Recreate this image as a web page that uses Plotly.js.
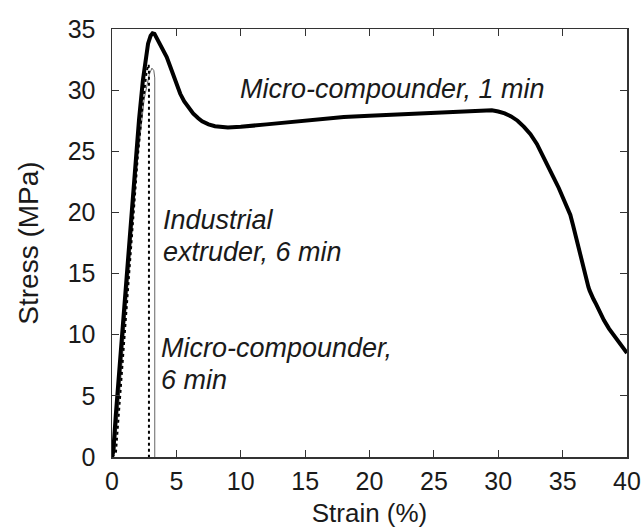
<!DOCTYPE html>
<html>
<head>
<meta charset="utf-8">
<script src="https://cdn.plot.ly/plotly-3.0.1.min.js"></script>
<style>html,body{margin:0;padding:0;background:#fff;}#chart{width:642px;height:532px;}</style>
</head>
<body>
<div id="chart"></div>
<script>
// Micro-compounder, 1 min
const strain1 = [0, 0.1, 0.3, 0.6, 1.0, 1.4, 1.8, 2.1, 2.4, 2.6, 2.8, 3.0, 3.15, 3.3, 3.5, 3.75, 4.0, 4.25, 4.5, 4.75, 5.0, 5.3, 5.6, 6.0, 6.3, 6.7, 7.0, 7.5, 8.0, 9, 10, 12, 14, 16, 18, 20, 22, 24, 26, 28, 29, 29.5, 30, 30.5, 31, 31.5, 32, 32.5, 33, 33.5, 34, 34.3, 34.7, 35.0, 35.3, 35.6, 35.8, 36.0, 36.2, 36.5, 36.7, 36.85, 37.0, 37.1, 37.25, 37.4, 37.6, 37.9, 38.2, 38.6, 39.0, 39.5, 40];
const stress1 = [0, 0.5, 3.5, 7.6, 13, 18.5, 23.8, 27.6, 30.8, 32.5, 33.8, 34.45, 34.65, 34.6, 34.2, 33.7, 33.2, 32.7, 32.0, 31.2, 30.5, 29.7, 29.1, 28.5, 28.1, 27.7, 27.45, 27.2, 27.05, 26.95, 27.0, 27.2, 27.4, 27.6, 27.8, 27.9, 28.0, 28.1, 28.2, 28.35, 28.4, 28.35, 28.25, 28.1, 27.85, 27.5, 27.0, 26.4, 25.6, 24.6, 23.5, 22.85, 22.0, 21.3, 20.6, 19.8, 19.0, 18.1, 17.3, 16.0, 14.9, 14.35, 13.9, 13.6, 13.2, 12.9, 12.5, 11.8, 11.2, 10.5, 9.9, 9.2, 8.5];
// Industrial extruder, 6 min
const strain2 = [0, 0.3, 0.6, 1.0, 1.5, 2.0, 2.4, 2.7, 2.85, 2.87, 2.87];
const stress2 = [0, 0.3, 4.5, 10, 17.5, 24.5, 29.0, 31.6, 32.1, 31.5, 0];
// Micro-compounder, 6 min
const strain3 = [0, 0.2, 0.5, 1.0, 1.5, 2.0, 2.5, 2.9, 3.1, 3.25, 3.32, 3.32];
const stress3 = [0, 0.3, 4, 11, 18, 24.5, 29.3, 31.3, 31.8, 31.6, 31.0, 0];

const labels = ["Micro-compounder, 1 min", "Industrial<br>extruder, 6 min", "Micro-compounder,<br>6 min"];
const xTicks = [0, 5, 10, 15, 20, 25, 30, 35, 40];
const yTicks = [0, 5, 10, 15, 20, 25, 30, 35];

const traces = [
  {x: strain3, y: stress3, mode: 'lines', line: {color: '#666', width: 1}, hoverinfo: 'skip'},
  {x: strain2, y: stress2, mode: 'lines', line: {color: '#000', width: 2, dash: 'dot'}, hoverinfo: 'skip'},
  {x: strain1, y: stress1, mode: 'lines', line: {color: '#000', width: 4, shape: 'linear'}, hoverinfo: 'skip'}
];

const fontFam = 'Liberation Sans, Arial, sans-serif';
const annFont = {size: 27, color: '#1a1a1a', family: fontFam};

// label anchors: [x, y, xanchor]
const anchors = [[21.8, 30.1, 'center'], [3.8, 18.1, 'left'], [3.65, 7.6, 'left']];
const annotations = [];
labels.forEach((lab, i) => {
  const lines = lab.split('<br>');
  const n = lines.length;
  lines.forEach((ln, j) => {
    annotations.push({
      x: anchors[i][0], y: anchors[i][1], xref: 'x', yref: 'y',
      text: '<i>' + ln + '</i>', showarrow: false,
      xanchor: anchors[i][2], yanchor: 'middle',
      yshift: ((n - 1) / 2 - j) * 32,
      font: annFont
    });
  });
});

const layout = {
  width: 642, height: 532,
  margin: {l: 112, r: 15, t: 29, b: 75},
  paper_bgcolor: '#fff', plot_bgcolor: '#fff',
  showlegend: false,
  font: {family: fontFam, size: 25, color: '#1a1a1a'},
  xaxis: {
    range: [0, 40], tickvals: xTicks, ticktext: xTicks.map(String),
    ticks: 'inside', ticklen: 7, tickcolor: '#333', mirror: 'ticks',
    showline: true, linecolor: '#333', linewidth: 1.5, showgrid: false, zeroline: false,
    ticklabelstandoff: 1,
    title: {text: 'Strain (%)', font: {size: 26, family: fontFam}, standoff: 10},
    tickfont: {size: 25}
  },
  yaxis: {
    range: [0, 35], tickvals: yTicks, ticktext: yTicks.map(String),
    ticks: 'inside', ticklen: 7, tickcolor: '#333', mirror: 'ticks',
    showline: true, linecolor: '#333', linewidth: 1.5, showgrid: false, zeroline: false,
    ticklabelstandoff: 10,
    title: {text: 'Stress (MPa)', font: {size: 28, family: fontFam}, standoff: 21},
    tickfont: {size: 25}
  },
  annotations: annotations
};

Plotly.newPlot('chart', traces, layout, {staticPlot: true, displayModeBar: false});
</script>
</body>
</html>
